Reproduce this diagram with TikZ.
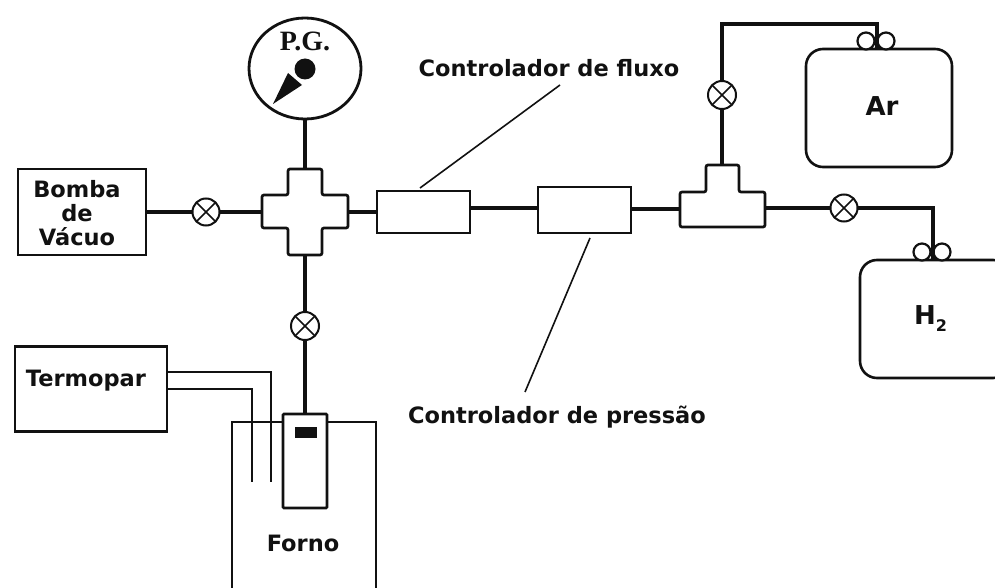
\documentclass[tikz,border=0pt]{standalone}
\usepackage{fontspec}
\usetikzlibrary{shapes.geometric}
\setmainfont{DejaVu Sans}
\newfontfamily\pgfont{Liberation Serif}
\definecolor{ink}{HTML}{111111}
\tikzset{
  pipe/.style={draw=ink,line width=4pt},
  wire/.style={draw=ink,line width=2pt},
  thin leader/.style={draw=ink,line width=1.6pt},
  boxn/.style={draw=ink,line width=2.7pt,rectangle,fill=white,inner sep=0pt,outer sep=0pt,minimum width=#1},
  boxh/.style={minimum height=#1},
  tank/.style={draw=ink,line width=2.6pt,rectangle,rounded corners=17pt,fill=white,inner sep=0pt,outer sep=0pt},
  fitting/.style={draw=ink,line width=2.7pt,rounded corners=2pt,fill=white},
  anchorbox/.style={rectangle,inner sep=0pt,outer sep=0pt},
  valve/.style={circle,draw=ink,line width=2pt,fill=white,inner sep=0pt,outer sep=0pt,minimum size=#1,
    path picture={\draw[ink,line width=1.7pt]
      (path picture bounding box.north west)--(path picture bounding box.south east)
      (path picture bounding box.north east)--(path picture bounding box.south west);}},
  lab/.style={text=ink,font=\fontsize{22.5}{24}\selectfont\bfseries,inner sep=0pt,align=center},
  biglab/.style={text=ink,font=\fontsize{26}{28}\selectfont\bfseries,inner sep=0pt},
  knob/.style={circle,draw=ink,line width=2.2pt,fill=white,minimum size=17pt,inner sep=0pt,outer sep=0pt},
}
\begin{document}
\begin{tikzpicture}[x=1pt,y=-1pt]
\useasboundingbox (0,0) rectangle (995,588);
\fill[white] (0,0) rectangle (995,588);
% gauge
\node[ellipse,draw=ink,line width=2.8pt,minimum width=112pt,minimum height=101pt,inner sep=0pt,outer sep=0pt] (pg) at (305,68.5) {};
\node[text=ink,font=\pgfont\fontsize{28}{30}\selectfont\bfseries,inner sep=0pt] (pgt) at (305,41) {P.G.};
\fill[ink] (305,69) circle (10.5pt);
\fill[ink] (273,104) -- (288,73) -- (302,85) -- cycle;
% cross fitting
\node[anchorbox,minimum width=86pt,minimum height=86pt] (cross) at (305,212) {};
\draw[fitting] (288,169) -- (322,169) -- (322,195) -- (348,195) -- (348,228) -- (322,228) -- (322,255) -- (288,255) -- (288,228) -- (262,228) -- (262,195) -- (288,195) -- cycle;
% tee fitting
\node[anchorbox,minimum width=85pt,minimum height=62pt] (tee) at (722.5,196) {};
\draw[fitting] (706,165) -- (739,165) -- (739,192) -- (765,192) -- (765,227) -- (680,227) -- (680,192) -- (706,192) -- cycle;
% boxes
\node[boxn=128pt,boxh=86pt] (bomba) at (82,212) {};
\node[lab] (bombat) at (77,213) {Bomba\\de\\Vácuo};
\node[boxn=93pt,boxh=42pt] (fc) at (423.5,212) {};
\node[boxn=93pt,boxh=46pt] (pc) at (584.5,210) {};
\node[boxn=152pt,boxh=85pt] (term) at (91,389) {};
\node[lab] (termt) at (86,381) {Termopar};
% furnace
\node[anchorbox,minimum width=144pt,minimum height=166pt] (forno) at (304,505) {};
\draw[draw=ink,line width=2.6pt] (232,592) -- (232,422) -- (376,422) -- (376,592);
\node[boxn=44pt,boxh=94pt,rounded corners=1pt] (tube) at (305,461) {};
\fill[ink] (295,427) rectangle (317,438);
\node[lab] (fornot) at (303,543) {Forno};
% tanks
\node[tank,minimum width=146pt,minimum height=118pt] (ar) at (879,108) {};
\node[biglab] (art) at (882,106) {Ar};
\node[tank,minimum width=150pt,minimum height=118pt] (h2) at (935,319) {};
\node[biglab] (h2t) at (925,315) {H};
\node[text=ink,font=\fontsize{16}{18}\selectfont\bfseries,inner sep=0pt] (h2s) at (941.5,326) {2};
% knobs
\node[knob] (ka) at (866,41) {};
\node[knob] (kb) at (886,41) {};
\node[knob] (kc) at (922,252) {};
\node[knob] (kd) at (942,252) {};
\coordinate (artop) at (877,50);
\coordinate (h2top) at (933,260);
\coordinate (arcorner) at (722,24);
\coordinate (h2corner) at (933,208);
% valves
\node[valve=27pt] (v1) at (206,212) {};
\node[valve=28pt] (v2) at (305,326) {};
\node[valve=28pt] (v3) at (722,95) {};
\node[valve=27pt] (v4) at (844,208) {};
% pipes
\draw[pipe] (bomba.east) -- (v1.west);
\draw[pipe] (v1.east) -- (262,212);
\draw[pipe] (pg.south) -- (305,169);
\draw[pipe] (305,255) -- (v2.north);
\draw[pipe] (v2.south) -- (tube.north);
\draw[pipe] (348,212) -- (fc.west);
\draw[pipe] ([yshift=4pt]fc.east) -- ([yshift=2pt]pc.west);
\draw[pipe] ([yshift=1pt]pc.east) -- (680,209);
\draw[pipe] (722,165) -- (v3.south);
\draw[pipe] (v3.north) -- (arcorner) -- (877,24) -- (artop);
\draw[pipe] (765,208) -- (v4.west);
\draw[pipe] (v4.east) -- (h2corner) -- (h2top);
% thermocouple wires
\draw[wire] ([yshift=17pt]term.east) -- (271,372) -- (271,482);
\draw[wire] (term.east) -- (252,389) -- (252,482);
% labels and leaders
\node[lab] (cft) at (549,68) {Controlador de fluxo};
\node[lab] (cpt) at (557,417) {Controlador de pressão};
\draw[thin leader] (420,188) -- (560,85);
\draw[thin leader] (590,238) -- (525,392);
\end{tikzpicture}
\end{document}
